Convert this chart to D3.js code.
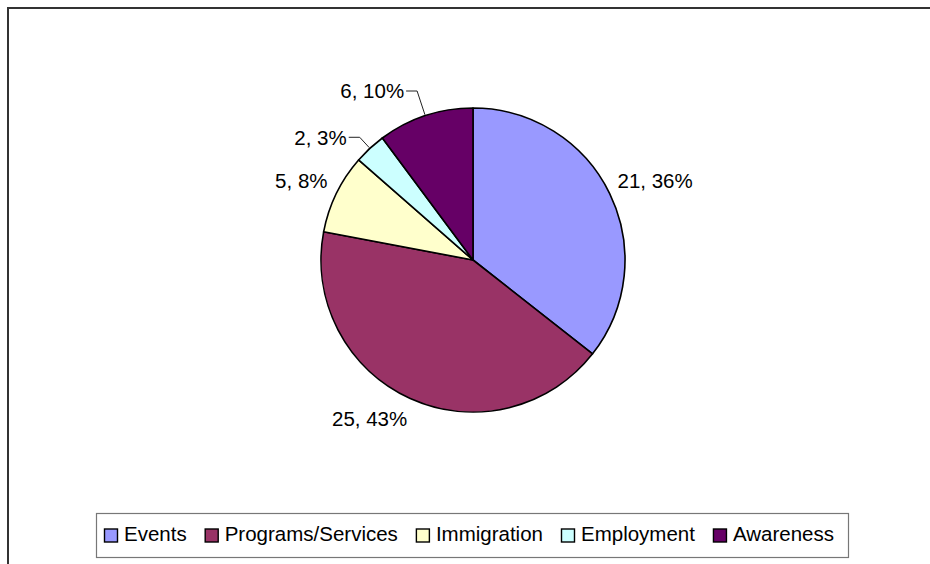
<!DOCTYPE html>
<html>
<head>
<meta charset="utf-8">
<script src="https://cdn.jsdelivr.net/npm/d3@7"></script>
<style>
  html, body { margin: 0; padding: 0; background: #fff; }
  svg { display: block; }
  text { font-family: "Liberation Sans", Arial, sans-serif; fill: #000; }
</style>
</head>
<body>
<svg id="chart" width="930" height="564"></svg>
<script>
// ---- data ----
const categories = ["Events", "Programs/Services", "Immigration", "Employment", "Awareness"];
const values = [21, 25, 5, 2, 6];
const percentLabels = ["36%", "43%", "8%", "3%", "10%"];
const colors = ["#9999FF", "#993366", "#FFFFCC", "#CCFFFF", "#660066"];

// ---- layout ----
const W = 930, H = 564;
const cx = 473, cy = 260, R = 152;
const fontSize = 20.5;
const capH = 14.7;
// labels moved outward with a leader line (radius of the elbow)
const leaderRadius = { "Employment": 167, "Awareness": 178 };

const svg = d3.select("#chart");

// outer chart border (right/bottom outside the view)
svg.append("rect")
  .attr("x", 8).attr("y", 8)
  .attr("width", W + 20).attr("height", H + 20)
  .attr("fill", "none").attr("stroke", "#333").attr("stroke-width", 2);

const data = categories.map((c, i) => ({ cat: c, value: values[i], pct: percentLabels[i], color: colors[i] }));

const pie = d3.pie().sort(null).value(d => d.value).startAngle(0).endAngle(2 * Math.PI);
const arcs = pie(data);
const arc = d3.arc().innerRadius(0).outerRadius(R);

const g = svg.append("g").attr("transform", `translate(${cx},${cy})`);

g.selectAll("path.slice")
  .data(arcs)
  .join("path")
  .attr("class", "slice")
  .attr("d", arc)
  .attr("fill", d => d.data.color)
  .attr("stroke", "#000")
  .attr("stroke-width", 1.6)
  .attr("stroke-linejoin", "round");

// labels
arcs.forEach(a => {
  const mid = (a.startAngle + a.endAngle) / 2;
  const sx = Math.sin(mid), sy = -Math.cos(mid);
  const txt = `${a.data.value}, ${a.data.pct}`;
  const lr = leaderRadius[a.data.cat];
  if (lr) {
    const ex = sx * (R + 1), ey = sy * (R + 1);
    const bx = sx * lr, by = sy * lr;
    const dir = sx < 0 ? -1 : 1;
    const hx = bx + dir * 11;
    g.append("path")
      .attr("d", `M${ex},${ey}L${bx},${by}L${hx},${by}`)
      .attr("fill", "none").attr("stroke", "#222").attr("stroke-width", 1);
    g.append("text")
      .attr("x", hx + dir * 2)
      .attr("y", by + capH / 2)
      .attr("text-anchor", dir < 0 ? "end" : "start")
      .attr("font-size", fontSize)
      .text(txt);
  } else {
    const ar = R + 12;
    const ax = sx * ar, ay = sy * ar;
    const anchor = sx < 0 ? "end" : "start";
    const baseline = sy < 0 ? ay : ay + capH + 2;
    g.append("text")
      .attr("x", ax + (sx < 0 ? 2 : -3))
      .attr("y", baseline)
      .attr("text-anchor", anchor)
      .attr("font-size", fontSize)
      .text(txt);
  }
});

// legend
const legBox = { x: 96, y: 513, w: 752, h: 44 };
const legend = svg.append("g");
legend.append("rect")
  .attr("x", legBox.x + 0.5).attr("y", legBox.y + 0.5)
  .attr("width", legBox.w).attr("height", legBox.h)
  .attr("fill", "#fff").attr("stroke", "#777").attr("stroke-width", 1.2);

const sw = 13, swGap = 7;
const padL = 8, padR = 14;
const items = legend.selectAll("g.item").data(data).join("g").attr("class", "item");
items.append("rect")
  .attr("width", sw).attr("height", sw)
  .attr("y", 529)
  .attr("fill", d => d.color)
  .attr("stroke", "#000").attr("stroke-width", 1.4);
items.append("text")
  .attr("y", 540.5)
  .attr("font-size", fontSize)
  .text(d => d.cat);

let widths = [];
items.select("text").each(function () { widths.push(this.getComputedTextLength()); });
const inner = legBox.w - padL - padR;
const used = widths.reduce((s, w) => s + sw + swGap + w, 0);
const itemGap = (inner - used) / (widths.length - 1);
let x = legBox.x + padL;
items.each(function (d, i) {
  const it = d3.select(this);
  it.select("rect").attr("x", x + 0.5);
  it.select("text").attr("x", x + sw + swGap);
  x += sw + swGap + widths[i] + itemGap;
});
</script>
</body>
</html>
